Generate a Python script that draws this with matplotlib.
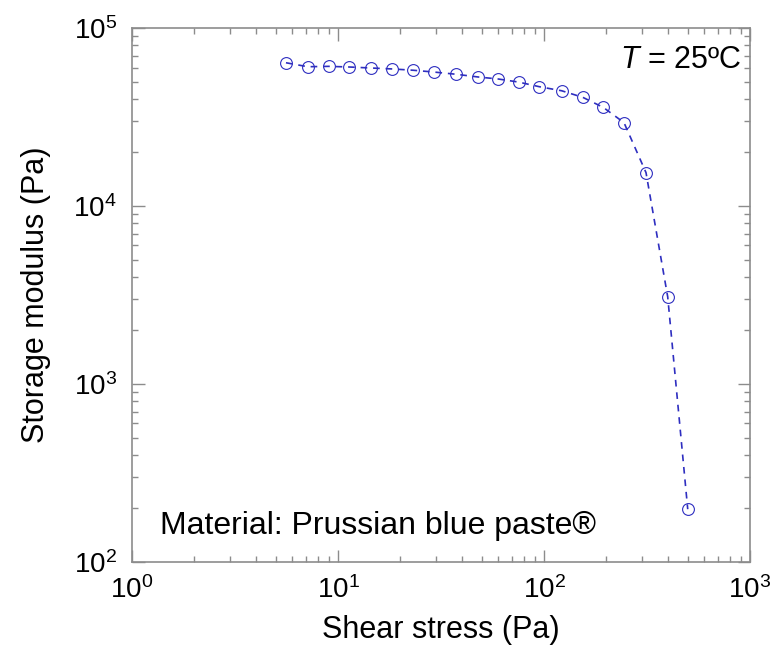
import matplotlib
matplotlib.use('Agg')
import matplotlib.pyplot as plt

# font setup, Arial-like
plt.rcParams['font.family'] = ['Liberation Sans', 'DejaVu Sans']
plt.rcParams['mathtext.fontset'] = 'custom'
plt.rcParams['mathtext.rm'] = 'Liberation Sans'
plt.rcParams['mathtext.it'] = 'Liberation Sans:italic'

shear_stress = [5.59, 7.13, 9.01, 11.3, 14.5, 18.3, 23.2, 29.1, 37.3, 47.7,
                60.0, 75.2, 94.9, 121.9, 154.2, 194.0, 244.5, 312.7, 398.5, 498.5]
storage_modulus = [63800, 60600, 60900, 60400, 59600, 58900, 57900, 56600, 55000, 53100,
                   51700, 49700, 46800, 44400, 40800, 35800, 29400, 15400, 3090, 198]

blue = '#2e2ec0'
grey = '#8c8c8c'

fig = plt.figure(figsize=(7.82, 6.47), dpi=100)
ax = fig.add_axes([0.1688, 0.1314, 0.7903, 0.8253])

ax.plot(shear_stress, storage_modulus, linestyle='--', dashes=(4, 3.5), color=blue,
        linewidth=1.2, marker='o', markersize=8.5, markerfacecolor='none',
        markeredgecolor=blue, markeredgewidth=0.8)

ax.set_xscale('log')
ax.set_yscale('log')
ax.set_xlim(1, 1000)
ax.set_ylim(100, 1e5)

ax.set_xlabel('Shear stress (Pa)', fontsize=22, labelpad=8)
ax.set_ylabel('Storage modulus (Pa)', fontsize=22, labelpad=16)

ax.tick_params(which='both', direction='in', top=True, right=True, color=grey,
               labelsize=20, width=1)
ax.tick_params(which='major', length=9)
ax.tick_params(which='minor', length=4.5)
ax.tick_params(axis='x', which='major', pad=10)
ax.tick_params(axis='y', which='major', pad=11)
for sp in ax.spines.values():
    sp.set_color(grey)
    sp.set_linewidth(1.2)

ax.text(0.985, 0.925, '$T$ = 25ºC', transform=ax.transAxes, ha='right',
        va='baseline', fontsize=22)
ax.text(0.046, 0.052, 'Material: Prussian blue paste®', transform=ax.transAxes,
        ha='left', va='baseline', fontsize=23)

plt.savefig('out.png', dpi=100)
